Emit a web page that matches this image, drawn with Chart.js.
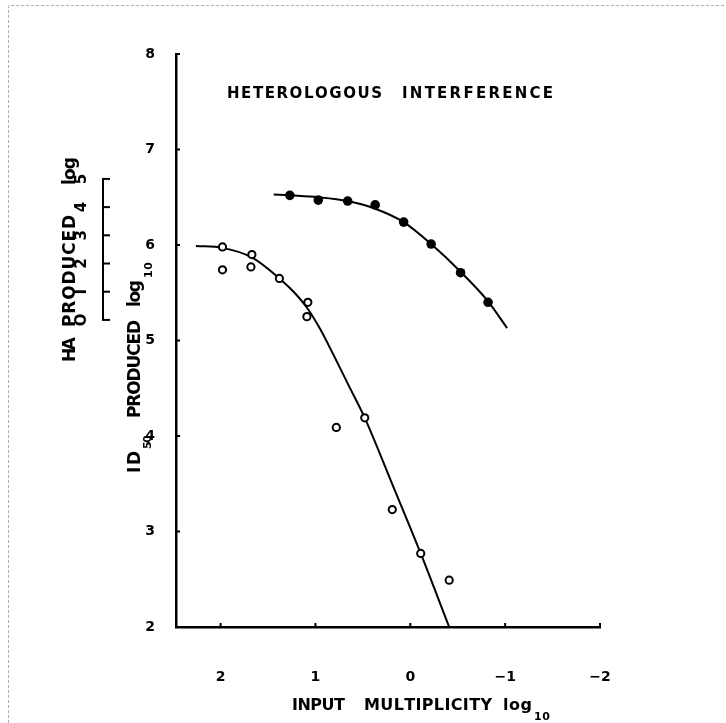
<!DOCTYPE html>
<html>
<head>
<meta charset="utf-8">
<script src="https://cdn.jsdelivr.net/npm/chart.js@4/dist/chart.umd.min.js"></script>
<style>
  body { margin: 0; background: #fff; }
  canvas { display: block; }
</style>
</head>
<body>
<canvas id="myChart" width="726" height="723"></canvas>
<script>
// input multiplicity (log10) and ID50 produced (log10), filled circles
var filledX = [1.27, 0.97, 0.66, 0.37, 0.07, -0.22, -0.53, -0.82];
var filledY = [6.52, 6.47, 6.46, 6.42, 6.24, 6.01, 5.71, 5.40];

// open circles
var openX = [1.98, 1.98, 1.67, 1.68, 1.38, 1.08, 1.09, 0.78, 0.48, 0.19, -0.11, -0.41];
var openY = [5.98, 5.74, 5.90, 5.77, 5.65, 5.40, 5.25, 4.09, 4.19, 3.23, 2.77, 2.49];

// hand-drawn curves through each set
var filledCurveX = [1.44, 1.27, 0.97, 0.66, 0.37, 0.07, -0.22, -0.53, -0.82, -1.02];
var filledCurveY = [6.53, 6.52, 6.50, 6.46, 6.38, 6.24, 6.01, 5.72, 5.41, 5.13];
var openCurveX = [2.26, 1.98, 1.67, 1.38, 1.23, 1.08, 0.95, 0.81, 0.65, 0.48, 0.20, -0.11, -0.41];
var openCurveY = [5.99, 5.97, 5.87, 5.65, 5.51, 5.33, 5.12, 4.85, 4.53, 4.19, 3.52, 2.77, 2.00];

// axis ticks
var xTicks = [2, 1, 0, -1, -2];
var xTickLabels = ['2', '1', '0', '\u22121', '\u22122'];
var yTicks = [2, 3, 4, 5, 6, 7, 8];
var yTickLabels = ['2', '3', '4', '5', '6', '7', '8'];
var haTicks = [0, 1, 2, 3, 4, 5];
var haTickLabels = ['O', 'I', '2', '3', '4', '5'];

function pairs(xs, ys) {
    return xs.map(function(x, i) { return { x: x, y: ys[i] }; });
}

var FONT = '"DejaVu Sans", sans-serif';

// letters spread out to fill a given width
function word(ctx, text, x, y, width) {
    var chars = text.split('');
    var total = 0;
    chars.forEach(function(c) { total += ctx.measureText(c).width; });
    var gap = chars.length > 1 ? (width - total) / (chars.length - 1) : 0;
    chars.forEach(function(c) {
        ctx.fillText(c, x, y);
        x += ctx.measureText(c).width + gap;
    });
}

// same, written bottom-to-top; y0 is where the word starts
function upWord(ctx, text, x, y0, height, font) {
    ctx.save();
    ctx.translate(x, y0);
    ctx.rotate(-Math.PI / 2);
    ctx.font = font;
    word(ctx, text, 0, 0, height);
    ctx.restore();
}

var decorations = {
    id: 'decorations',
    afterDraw: function(chart) {
        var ctx = chart.ctx;
        var xs = chart.scales.x, ys = chart.scales.y, ha = chart.scales.ha;
        var area = chart.chartArea;

        ctx.save();
        ctx.fillStyle = '#000';
        ctx.strokeStyle = '#000';
        ctx.textAlign = 'left';
        ctx.textBaseline = 'alphabetic';

        // small inward ticks on both axes
        ctx.lineWidth = 2;
        xTicks.forEach(function(v) {
            var px = xs.getPixelForValue(v);
            ctx.beginPath();
            ctx.moveTo(px, area.bottom);
            ctx.lineTo(px, area.bottom - 4);
            ctx.stroke();
        });
        yTicks.forEach(function(v) {
            var py = ys.getPixelForValue(v);
            ctx.beginPath();
            ctx.moveTo(area.left, py);
            ctx.lineTo(area.left + 4, py);
            ctx.stroke();
        });

        // HA scale: bracket with ticks and upright labels
        var haX = 103;
        ctx.lineWidth = 2;
        ctx.beginPath();
        ctx.moveTo(haX, ha.getPixelForValue(0));
        ctx.lineTo(haX, ha.getPixelForValue(5));
        ctx.stroke();
        haTicks.forEach(function(v, i) {
            var py = ha.getPixelForValue(v);
            ctx.beginPath();
            ctx.moveTo(haX - 1, py);
            ctx.lineTo(haX + 7, py);
            ctx.stroke();
            ctx.save();
            ctx.translate(82, py);
            ctx.rotate(-Math.PI / 2);
            ctx.font = 'bold 15px ' + FONT;
            ctx.textAlign = 'center';
            ctx.textBaseline = 'middle';
            ctx.fillText(haTickLabels[i], 0, 0);
            ctx.restore();
        });

        // heading
        ctx.font = 'bold 15px ' + FONT;
        word(ctx, 'HETEROLOGOUS', 227, 98, 155);
        word(ctx, 'INTERFERENCE', 402, 98, 151);

        // x axis title
        ctx.font = 'bold 16px ' + FONT;
        word(ctx, 'INPUT', 292, 710, 53);
        word(ctx, 'MULTIPLICITY', 364, 710, 128);
        word(ctx, 'log', 503, 710, 29);
        ctx.font = 'bold 11px ' + FONT;
        word(ctx, '10', 534, 720, 16);

        // left axis title, ID50 PRODUCED log10
        var big = 'bold 17px ' + FONT, small = 'bold 11px ' + FONT;
        upWord(ctx, 'ID', 140, 473, 22, big);
        upWord(ctx, '50', 151, 449, 14, small);
        upWord(ctx, 'PRODUCED', 140, 418, 98, big);
        upWord(ctx, 'log', 140, 307, 27, big);
        upWord(ctx, '10', 152, 278, 16, small);

        // HA axis title
        upWord(ctx, 'HA', 75, 362, 25, big);
        upWord(ctx, 'PRODUCED', 75, 327, 112, big);
        upWord(ctx, 'log', 75, 185, 28, big);

        // faint frame left by the page edge
        ctx.strokeStyle = '#b0b0b0';
        ctx.lineWidth = 1;
        ctx.setLineDash([3, 2]);
        ctx.beginPath();
        ctx.moveTo(8.5, 723);
        ctx.lineTo(8.5, 5.5);
        ctx.lineTo(726, 5.5);
        ctx.stroke();
        ctx.restore();
    }
};

window.onload = function()
{
    var ctx = document.getElementById('myChart').getContext('2d');

    var tickFont = { family: FONT, weight: 'bold', size: 14 };

    var myChart = new Chart(ctx,
    {
        type: 'scatter',
        data:
        {
            datasets:
            [
                {
                    data: pairs(filledX, filledY),
                    pointRadius: 4.8,
                    pointBackgroundColor: '#000',
                    pointBorderWidth: 0,
                    order: 0
                },
                {
                    data: pairs(openX, openY),
                    pointRadius: 3.6,
                    pointBackgroundColor: '#fff',
                    pointBorderColor: '#000',
                    pointBorderWidth: 2,
                    order: 0
                },
                {
                    data: pairs(filledCurveX, filledCurveY),
                    showLine: true,
                    pointRadius: 0,
                    borderColor: '#000',
                    borderWidth: 2,
                    cubicInterpolationMode: 'monotone',
                    order: 1
                },
                {
                    data: pairs(openCurveX, openCurveY),
                    showLine: true,
                    pointRadius: 0,
                    borderColor: '#000',
                    borderWidth: 2,
                    cubicInterpolationMode: 'monotone',
                    order: 1
                }
            ]
        },
        options:
        {
            responsive: false,
            animation: false,
            devicePixelRatio: 1,
            layout: { padding: { top: 54, right: 126, left: 0, bottom: 0 } },
            plugins:
            {
                legend: { display: false },
                tooltip: { enabled: false }
            },
            scales:
            {
                x:
                {
                    type: 'linear',
                    position: 'bottom',
                    reverse: true,
                    min: -2,
                    max: 2.47,
                    afterFit: function(scale) { scale.height = 96; },
                    afterBuildTicks: function(scale) {
                        scale.ticks = xTicks.map(function(v) { return { value: v }; });
                    },
                    grid: { display: false, drawTicks: false },
                    border: { display: true, color: '#000', width: 2.5 },
                    ticks:
                    {
                        padding: 42,
                        color: '#000',
                        font: tickFont,
                        callback: function(v) { return xTickLabels[xTicks.indexOf(v)]; }
                    }
                },
                y:
                {
                    type: 'linear',
                    position: 'left',
                    min: 2,
                    max: 8,
                    afterFit: function(scale) { scale.width = 176; },
                    afterBuildTicks: function(scale) {
                        scale.ticks = yTicks.map(function(v) { return { value: v }; });
                    },
                    grid: { display: false, drawTicks: false },
                    border: { display: true, color: '#000', width: 2.5 },
                    ticks:
                    {
                        padding: 21,
                        color: '#000',
                        font: tickFont,
                        callback: function(v) { return yTickLabels[yTicks.indexOf(v)]; }
                    }
                },
                ha:
                {
                    type: 'linear',
                    position: 'left',
                    display: false,
                    min: -10.89,
                    max: 9.43
                }
            }
        },
        plugins: [decorations]
    });
};
</script>
</body>
</html>
